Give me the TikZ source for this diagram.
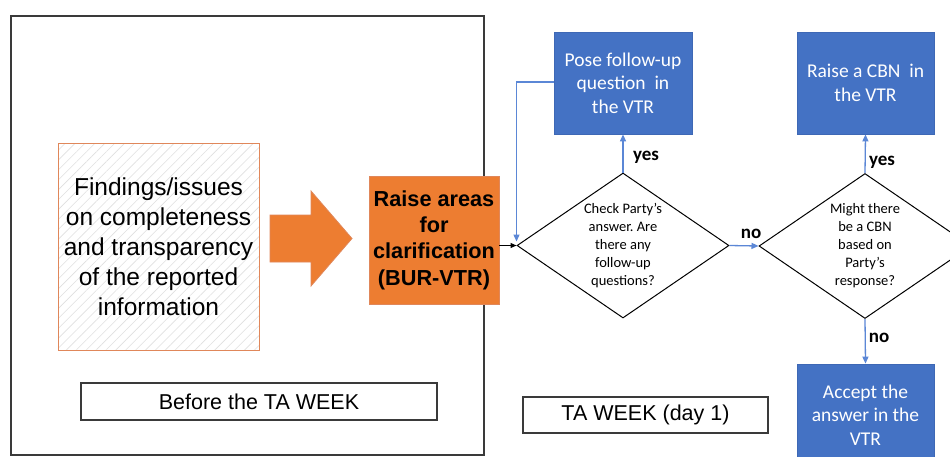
\documentclass[tikz,border=0pt]{standalone}
\usepackage{fontspec}
\setmainfont{Liberation Sans}
\newfontfamily\calfont{Carlito}
\usetikzlibrary{shapes.geometric,arrows.meta,patterns.meta}
\definecolor{obox}{HTML}{ED7D31}
\definecolor{oline}{HTML}{E0875A}
\definecolor{bbox}{HTML}{4472C4}
\definecolor{bedge}{HTML}{3E68B5}
\definecolor{bline}{HTML}{5B87D6}
\definecolor{frame}{HTML}{3A3A3A}
\frenchspacing
\begin{document}
\begin{tikzpicture}[x=1pt,y=-1pt,
  container/.style={draw=frame,line width=1.1pt,inner sep=0pt},
  findbox/.style={draw=oline,line width=1pt,inner sep=0pt,
    pattern={Lines[angle=45,distance=7pt,line width=0.6pt]},pattern color=black!12,
    font=\fontsize{24.5}{30}\selectfont,align=center},
  orangebox/.style={fill=obox,draw=oline,line width=0.8pt,inner sep=0pt,
    font=\fontsize{21.7}{26.3}\selectfont\bfseries,align=center},
  bluebox/.style={fill=bbox,draw=bedge,line width=0.8pt,inner sep=0pt,text=white,
    font=\calfont\fontsize{19.5}{23.3}\selectfont,align=center},
  decision/.style={diamond,draw=black,line width=1pt,inner sep=0pt,aspect=1.46,
    minimum width=212pt,minimum height=145pt,
    font=\calfont\fontsize{14.5}{18}\selectfont,align=center},
  labelbox/.style={draw=frame,line width=1.1pt,inner sep=0pt,
    font=\fontsize{21.5}{26}\selectfont},
  flow/.style={draw=bline,line width=1.3pt,-{Triangle[length=7pt,width=6pt]}},
  blackflow/.style={draw=black,line width=1.1pt,-{Triangle[length=6pt,width=5pt]}},
  answer/.style={font=\calfont\bfseries\fontsize{19}{22}\selectfont,inner sep=0pt}
]
\fill[white] (0,0) rectangle (950,456);
\useasboundingbox (0,0) rectangle (950,456);

% container of the phase before the TA week
\node[container,minimum width=473pt,minimum height=439pt] (before) at (247.5,235.5) {};

\node[findbox,minimum width=201pt,minimum height=207pt] (find) at (158.5,246.5)
  {Findings/issues\\on completeness\\and transparency\\of the reported\\information};

% big orange arrow
\filldraw[fill=obox,draw=oline,line width=0.8pt]
  (270,215) -- (311,215) -- (311,191) -- (352,238.5) -- (311,286) -- (311,262) -- (270,262) -- cycle;

\node[orangebox,minimum width=130pt,minimum height=128pt] (raise) at (434,240)
  {Raise areas\\for\\clarification\\(BUR-VTR)};

\node[labelbox,minimum width=356pt,minimum height=37pt] (lbefore) at (259,401.5) {Before the TA WEEK};
\node[labelbox,minimum width=245pt,minimum height=36pt] (lweek) at (645.5,415) {TA WEEK (day 1)};

% decisions
\node[decision] (d1) at (623,245.5)
  {Check Party’s\\answer. Are\\there any\\follow-up\\questions?};
\node[decision] (d2) at (865,246)
  {Might there\\be a CBN\\based on\\Party’s\\response?};

% blue boxes
\node[bluebox,minimum width=138pt,minimum height=102pt] (pose) at (623,83)
  {Pose follow-up\\question\ \ in\\the VTR};
\node[bluebox,minimum width=137pt,minimum height=102pt] (cbn) at (865.5,83)
  {Raise a CBN\ \ in\\the VTR};
\node[bluebox,minimum width=137pt,minimum height=102pt] (accept) at (865.5,415)
  {Accept the\\answer in the\\VTR};

% connectors
\draw[blackflow] (raise.east |- d1.west) -- (d1.west);
\draw[flow] (d1.north) -- (pose.south);
\draw[flow] (d1.east) -- (d2.west);
\draw[flow] (d2.north) -- (cbn.south);
\draw[flow] (d2.south) -- (accept.north);
\draw[flow,shorten >=4pt] (pose.west |- 0,82) -| (d1.west);

% answer labels
\node[answer] (y1) at (646,157) {yes};
\node[answer] (n1) at (751,234) {no};
\node[answer] (y2) at (882,162) {yes};
\node[answer] (n2) at (879,338) {no};
\end{tikzpicture}
\end{document}
